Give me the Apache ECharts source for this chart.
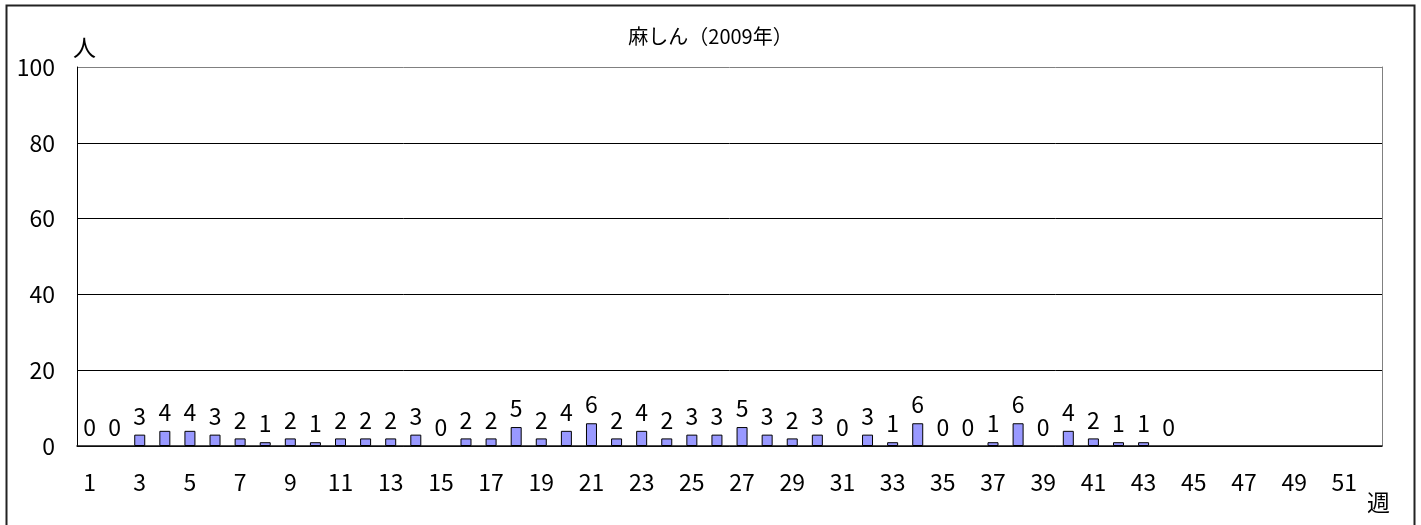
<!DOCTYPE html>
<html>
<head>
<meta charset="utf-8">
<script src="https://cdn.jsdelivr.net/npm/echarts@6/dist/echarts.min.js"></script>
<style>
  html, body { margin: 0; padding: 0; background: #fff; }
  #chart { width: 1421px; height: 525px; }
</style>
</head>
<body>
<div id="chart"></div>
<script>
// Weekly measles reports, 2009
const titleText = '麻しん（2009年）';
const weeks = Array.from({ length: 52 }, (_, i) => String(i + 1));
const cases = [
  0, 0, 3, 4, 4, 3, 2, 1, 2, 1,
  2, 2, 2, 3, 0, 2, 2, 5, 2, 4,
  6, 2, 4, 2, 3, 3, 5, 3, 2, 3,
  0, 3, 1, 6, 0, 0, 1, 6, 0, 4,
  2, 1, 1, 0, null, null, null, null, null, null,
  null, null
];
const yTicks = { min: 0, max: 100, interval: 20 };

const numFont = '"Noto Sans CJK JP", sans-serif';
const jpFont = '"Noto Sans CJK JP", sans-serif';

// zero-count weeks keep their label but draw no outline
const barData = cases.map(v => (v === 0
  ? { value: v, itemStyle: { borderWidth: 0 } }
  : v));

const chart = echarts.init(document.getElementById('chart'), null, { renderer: 'canvas' });
chart.setOption({
  animation: false,
  backgroundColor: '#fff',
  title: {
    text: titleText,
    left: 'center',
    top: 21,
    textStyle: { fontFamily: jpFont, fontSize: 20, fontWeight: 'normal', color: '#000' }
  },
  grid: { left: 77, top: 67, right: 39, bottom: 79, containLabel: false },
  xAxis: {
    type: 'category',
    data: weeks,
    axisLine: { show: true, lineStyle: { color: '#111', width: 1.5 } },
    axisTick: { show: false },
    axisLabel: {
      interval: 1,
      margin: 25,
      color: '#000',
      fontFamily: numFont,
      fontSize: 23
    }
  },
  yAxis: [
    {
      type: 'value',
      min: yTicks.min,
      max: yTicks.max,
      interval: yTicks.interval,
      axisLine: { show: true, lineStyle: { color: '#000', width: 1 } },
      axisTick: { show: false },
      splitLine: {
        show: true,
        lineStyle: { color: ['#000', '#000', '#000', '#000', '#000', '#808080'], width: 1 }
      },
      axisLabel: {
        margin: 22,
        color: '#000',
        fontFamily: numFont,
        fontSize: 23
      }
    },
    {
      type: 'value',
      position: 'right',
      min: yTicks.min,
      max: yTicks.max,
      interval: yTicks.interval,
      axisLine: { show: true, lineStyle: { color: '#808080', width: 1 } },
      axisTick: { show: false },
      axisLabel: { show: false },
      splitLine: { show: false }
    }
  ],
  series: [
    {
      type: 'bar',
      data: barData,
      barWidth: 11,
      itemStyle: { color: '#9999ff', borderColor: '#000', borderWidth: 1 },
      label: {
        show: true,
        position: 'top',
        distance: 7,
        color: '#000',
        fontFamily: numFont,
        fontSize: 23
      }
    }
  ],
  graphic: [
    {
      type: 'rect',
      shape: { x: 6.5, y: 5.5, width: 1408, height: 560 },
      style: { fill: 'none', stroke: '#222', lineWidth: 2 },
      silent: true
    },
    {
      type: 'text',
      left: 73,
      top: 36,
      style: { text: '人', fontFamily: jpFont, fontSize: 23, fill: '#000' }
    },
    {
      type: 'text',
      left: 1367,
      top: 491,
      style: { text: '週', fontFamily: jpFont, fontSize: 23, fill: '#000' }
    }
  ]
});
</script>
</body>
</html>
